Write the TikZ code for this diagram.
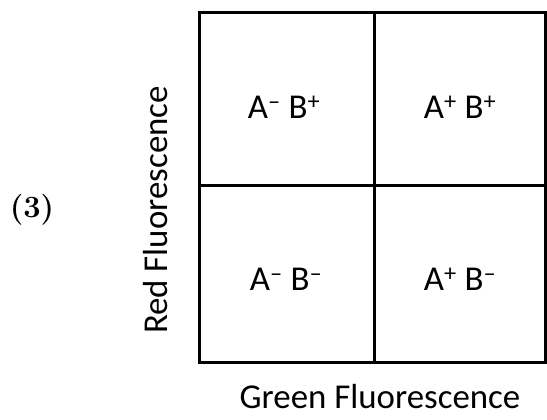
\documentclass[tikz,border=0pt]{standalone}
\usepackage{fontspec}
\setmainfont{Carlito}
\newfontfamily\lmfont{Latin Modern Roman}

\begin{document}
\begin{tikzpicture}[x=1bp, y=-1bp, grid/.style={line width=3bp}, cell/.style={font=\fontsize{35}{42}\selectfont}, axis/.style={inner sep=0pt,font=\fontsize{35}{42}\selectfont}]
\useasboundingbox (0,0) rectangle (547,419);
\coordinate (nw) at (199,12);
\coordinate (se) at (545,362);
\coordinate (top) at (374,12);
\coordinate (bot) at (374,362);
\coordinate (lft) at (199,185);
\coordinate (rgt) at (545,185);
\draw[grid] (nw) rectangle (se);
\draw[grid] (top) -- (bot);
\draw[grid] (lft) -- (rgt);
\node[cell,anchor=base] (tl) at (284,118) {A\textsuperscript{--} B\textsuperscript{+}};
\node[cell,anchor=base] (tr) at (460,118) {A\textsuperscript{+} B\textsuperscript{+}};
\node[cell,anchor=base] (bl) at (286,290) {A\textsuperscript{--} B\textsuperscript{--}};
\node[cell,anchor=base] (br) at (460,290) {A\textsuperscript{+} B\textsuperscript{--}};
\node[axis,anchor=base] (green) at (380,408) {Green Fluorescence};
\node[axis,rotate=90,anchor=base] (red) at (167,210) {Red Fluorescence};
\node[anchor=base,font=\lmfont\bfseries\fontsize{31}{36}\selectfont] (num) at (32,217) {(3)};
\end{tikzpicture}
\end{document}
